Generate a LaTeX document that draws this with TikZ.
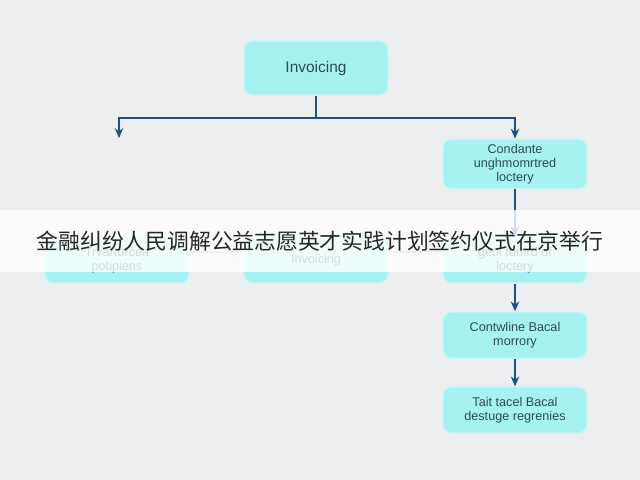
\documentclass[tikz,border=0pt]{standalone}
\usepackage{fontspec}
\setmainfont{Liberation Sans}
\newfontfamily\cjk{Noto Sans CJK SC}
\usetikzlibrary{arrows.meta}
\definecolor{bgc}{HTML}{EDEEEF}
\definecolor{boxc}{HTML}{A6F2F2}
\definecolor{edgec}{HTML}{C8F6F6}
\definecolor{linec}{HTML}{1F4F86}
\definecolor{txtc}{HTML}{2B4A5E}
\newlength{\pxu}\setlength{\pxu}{0.025cm}
\tikzset{
  stepbox/.style={draw=edgec,line width=1pt,fill=boxc,rounded corners=6pt,
    minimum width=144\pxu,minimum height=48\pxu,align=center,
    text=txtc,font=\fontsize{9}{10}\selectfont},
  flow/.style={linec,line width=1.2pt,-{Stealth[length=7pt,width=6pt]}},
  side/.style={linec!40,line width=1pt,-{Stealth[length=7pt,width=6pt]}}
}
\begin{document}
\begin{tikzpicture}[x=0.025cm,y=-0.025cm]
\fill[bgc] (0,0) rectangle (640,480);
\useasboundingbox (0,0) rectangle (640,480);
% boxes
\node[stepbox,minimum height=54\pxu,font=\fontsize{11}{12}\selectfont] (inv) at (316,68) {Invoicing};
\node[stepbox] (cond) at (515,164) {Condante\\ unghmomrtred\\ loctery};
\node[stepbox,minimum height=46\pxu] (left) at (117,260) {Trvartorcea\\ potipiens};
\node[stepbox,minimum height=46\pxu] (mid) at (316,260) {Invoicing};
\node[stepbox,minimum height=46\pxu] (geol) at (515,260) {geol tomrd of\\ loctery};
\node[stepbox,minimum height=46\pxu] (cont) at (515,335) {Contwline Bacal\\ morrory};
\node[stepbox,minimum height=46\pxu] (text) at (515,410) {Tait tacel Bacal\\ destuge regrenies};
% connectors
\coordinate (split) at (316,118);
\coordinate (lend) at (119,138);
\draw[linec,line width=1.2pt] (inv.south) -- (split);
\draw[flow] (split) -| (lend);
\draw[flow] (split) -| (cond.north);
\draw[flow] (cond) -- (geol);
\draw[flow] (geol) -- (cont);
\draw[flow] (cont) -- (text);
\draw[side] (left.east |- 0,252) -- (mid.west |- 0,252);
\draw[side] (mid.east |- 0,252) -- (geol.west |- 0,252);
% banner
\fill[white,opacity=0.8] (0,210) rectangle (640,272);
\node[font=\cjk\fontsize{15.5}{18}\selectfont,text=black!85] (title) at (320,241)
  {金融纠纷人民调解公益志愿英才实践计划签约仪式在京举行};
\end{tikzpicture}
\end{document}
